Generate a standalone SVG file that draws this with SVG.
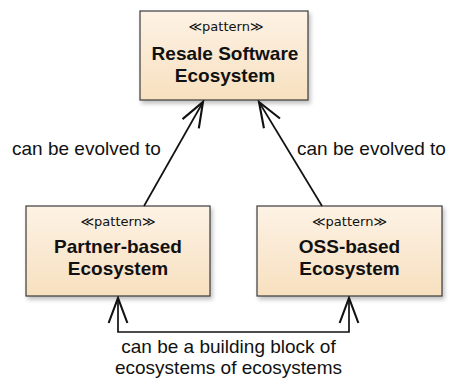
<svg xmlns="http://www.w3.org/2000/svg" width="449" height="379" viewBox="0 0 449 379">
<style>
.box{stroke:#3a3a3a;stroke-width:1.2;fill:url(#g);filter:url(#sh)}
.st{font-family:"DejaVu Sans",Verdana,sans-serif;font-size:13px;fill:#111;text-anchor:middle}
.nm{font-family:"Liberation Sans",Arial,sans-serif;font-size:19px;font-weight:bold;fill:#111;text-anchor:middle}
.lb{font-family:"Liberation Sans",Arial,sans-serif;font-size:19px;fill:#111}
.ln{stroke:#111;stroke-width:1.7;fill:none}
</style>
<defs>
<linearGradient id="g" x1="0" y1="0" x2="0" y2="1">
<stop offset="0" stop-color="#fdf2e5"/>
<stop offset="1" stop-color="#f7e0bf"/>
</linearGradient>
<filter id="sh" x="-10%" y="-10%" width="130%" height="140%">
<feDropShadow dx="2" dy="3" stdDeviation="2" flood-color="#000" flood-opacity="0.25"/>
</filter>
<marker id="ah" markerUnits="userSpaceOnUse" markerWidth="30" markerHeight="30" viewBox="-22 -10 24 20" refX="0" refY="0" orient="auto-start-reverse">
<path d="M-20,-7.5 L0,0 L-20,7.5" fill="none" stroke="#111" stroke-width="1.7"/>
</marker>
</defs>
<g id="resale">
<rect class="box" x="140" y="11" width="168" height="89"/>
<text class="st" x="226" y="31">≪pattern≫</text>
<text class="nm" x="225" y="60">Resale Software</text>
<text class="nm" x="225" y="82">Ecosystem</text>
</g>
<g id="partner">
<rect class="box" x="26" y="206" width="184" height="90"/>
<text class="st" x="118" y="226">≪pattern≫</text>
<text class="nm" x="118" y="253">Partner-based</text>
<text class="nm" x="118" y="275">Ecosystem</text>
</g>
<g id="oss">
<rect class="box" x="257" y="206" width="185" height="90"/>
<text class="st" x="349.5" y="226">≪pattern≫</text>
<text class="nm" x="349.5" y="253">OSS-based</text>
<text class="nm" x="349.5" y="275">Ecosystem</text>
</g>
<g id="connectors">
<line class="ln" x1="144" y1="206" x2="203" y2="102" marker-end="url(#ah)"/>
<line class="ln" x1="322" y1="206" x2="259" y2="102" marker-end="url(#ah)"/>
<path class="ln" d="M118,298 V332 H349 V298" marker-start="url(#ah)" marker-end="url(#ah)"/>
<text class="lb" x="12" y="155">can be evolved to</text>
<text class="lb" x="297" y="155">can be evolved to</text>
<text class="lb" x="228.5" y="353" text-anchor="middle">can be a building block of</text>
<text class="lb" x="228.5" y="374" text-anchor="middle">ecosystems of ecosystems</text>
</g>
</svg>
